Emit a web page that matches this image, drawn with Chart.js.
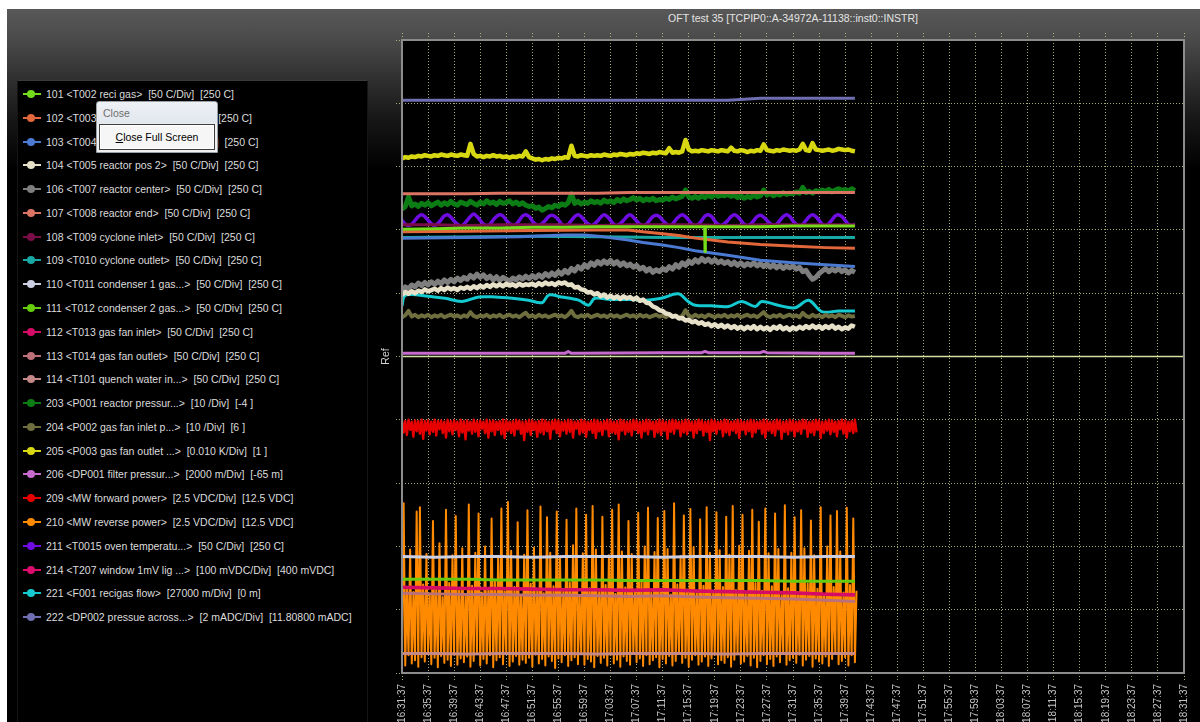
<!DOCTYPE html>
<html>
<head>
<meta charset="utf-8">
<title>OFT test 35</title>
<script src="https://cdn.jsdelivr.net/npm/chart.js@4.4.1/dist/chart.umd.min.js"></script>
<style>
  html, body { margin: 0; padding: 0; width: 1200px; height: 722px; overflow: hidden; background: #000;
    font-family: "Liberation Sans", Arial, sans-serif; }
  #bg { position: absolute; left: 0; top: 0; width: 1200px; height: 722px;
    background: linear-gradient(to bottom, #ffffff 0px, #ffffff 9px, #585858 9px, #4b4b4b 38px, #2f2f2f 80px, #161616 120px, #000 170px); }
  #edge { position: absolute; left: 0; top: 0; width: 7px; height: 722px; background: #fff; }
  #legendBox { position: absolute; left: 17px; top: 80px; width: 349px; height: 680px; background: #000;
    border: 1px solid #151515; border-top-color: #3a3a3a; }
  #legend { position: absolute; left: 0; top: 0; }
  .lg-row { position: absolute; left: 0; height: 14px; }
  .lg-line { position: absolute; left: 23px; top: 6px; width: 18px; height: 2px; }
  .lg-dot { position: absolute; left: 27px; top: 3px; width: 8px; height: 8px; border-radius: 50%; }
  .lg-text { position: absolute; left: 46px; top: 0; line-height: 14px; font-size: 10.5px; color: #dcdcdc; white-space: pre; }
  #title { position: absolute; left: 593px; top: 11px; width: 400px; text-align: center; color: #e4e4e4;
    font-size: 10.5px; line-height: 14px; white-space: pre; }
  #plotWrap { position: absolute; left: 370px; top: 0; width: 830px; height: 722px; }
  #closeMenu { position: absolute; left: 96px; top: 101px; width: 122px; height: 52px; box-sizing: border-box;
    border: 1px solid #9aa0a8; border-radius: 3px 3px 0 0;
    background: linear-gradient(to bottom, #eef1f5 0px, #e2e7ee 21px, #f0f0f0 22px, #f0f0f0 100%); }
  #closeMenu .cm-title { position: absolute; left: 6px; top: 5px; font-size: 10.5px; line-height: 13px; color: #6e6e6e; }
  #closeMenu .cm-btn { position: absolute; left: 2px; top: 22px; width: 116px; height: 26px; box-sizing: border-box;
    border: 1px solid #3c3c3c; box-shadow: inset 0 0 0 1px #ffffff; background: #f6f6f6;
    font-size: 10.5px; line-height: 24px; text-align: center; color: #000; }
</style>
</head>
<body>
<div id="bg"></div>
<div id="edge"></div>
<div id="legendBox"></div>
<div id="legend"></div>
<div id="title">OFT test 35 [TCPIP0::A-34972A-11138::inst0::INSTR]</div>
<div id="plotWrap"><canvas id="plot" width="830" height="722"></canvas></div>
<div id="closeMenu"><div class="cm-title">Close</div><div class="cm-btn"><u>C</u>lose Full Screen</div></div>

<script>
// ---- time axis (minutes after 16:31:37) ----
const TIME_LABELS = ['16:31:37','16:35:37','16:39:37','16:43:37','16:47:37','16:51:37','16:55:37','16:59:37',
  '17:03:37','17:07:37','17:11:37','17:15:37','17:19:37','17:23:37','17:27:37','17:31:37','17:35:37','17:39:37',
  '17:43:37','17:47:37','17:51:37','17:55:37','17:59:37','18:03:37','18:07:37','18:11:37','18:15:37','18:19:37',
  '18:23:37','18:27:37','18:31:37'];
const TICK_STEP_MIN = 4;
const AXIS_END_MIN = 120;

// logger sample times (minutes)
const COARSE_TIMES = [0, 5, 10, 15, 20, 25, 30, 35, 40, 45, 50, 55, 60, 65, 69.5];
const FINE_TIMES = Array.from({ length: 140 }, (_, i) => i * 0.5);    // 30 s samples
const DENSE_TIMES = Array.from({ length: 280 }, (_, i) => i * 0.25);  // 15 s samples

// ---- channel names ----
const SERIES_LABELS = [
  '101 <T002 reci gas>  [50 C/Div]  [250 C]',
  '102 <T003 reactor inlet>  [50 C/Div]  [250 C]',
  '103 <T004 reactor pos 1>  [50 C/Div]  [250 C]',
  '104 <T005 reactor pos 2>  [50 C/Div]  [250 C]',
  '106 <T007 reactor center>  [50 C/Div]  [250 C]',
  '107 <T008 reactor end>  [50 C/Div]  [250 C]',
  '108 <T009 cyclone inlet>  [50 C/Div]  [250 C]',
  '109 <T010 cyclone outlet>  [50 C/Div]  [250 C]',
  '110 <T011 condenser 1 gas...>  [50 C/Div]  [250 C]',
  '111 <T012 condenser 2 gas...>  [50 C/Div]  [250 C]',
  '112 <T013 gas fan inlet>  [50 C/Div]  [250 C]',
  '113 <T014 gas fan outlet>  [50 C/Div]  [250 C]',
  '114 <T101 quench water in...>  [50 C/Div]  [250 C]',
  '203 <P001 reactor pressur...>  [10 /Div]  [-4 ]',
  '204 <P002 gas fan inlet p...>  [10 /Div]  [6 ]',
  '205 <P003 gas fan outlet ...>  [0.010 K/Div]  [1 ]',
  '206 <DP001 filter pressur...>  [2000 m/Div]  [-65 m]',
  '209 <MW forward power>  [2.5 VDC/Div]  [12.5 VDC]',
  '210 <MW reverse power>  [2.5 VDC/Div]  [12.5 VDC]',
  '211 <T0015 oven temperatu...>  [50 C/Div]  [250 C]',
  '214 <T207 window 1mV lig ...>  [100 mVDC/Div]  [400 mVDC]',
  '221 <F001 recigas flow>  [27000 m/Div]  [0 m]',
  '222 <DP002 pressue across...>  [2 mADC/Div]  [11.80800 mADC]'
];

const SERIES_COLORS = ['#74dc1a', '#e2683c', '#4a7ad2', '#e6e0c8', '#7e7e7e', '#dc7464', '#7a0c48', '#18a8a4',
  '#cccfe2', '#66cc0e', '#d40c66', '#bc7078', '#c48888', '#0c7c14', '#6e6e3e', '#d8d812', '#c66ace',
  '#e60000', '#ff8a00', '#6e0ce2', '#dc0c6c', '#14cad0', '#6e6eb0'];

// trace widths in px, same order as the channels
const SERIES_WIDTHS = [3, 3, 3, 4.5, 5, 3, 3, 3, 3, 3, 3, 3, 3, 5, 4, 4.5, 3, 2.4, 2, 3.5, 3, 3, 3];

// ---- channel values, in divisions (0 = bottom grid line, 10 = top) ----
const T002_TIMES = [0, 5, 10, 15, 20, 25, 30, 35, 40, 45, 46.45, 46.5, 46.55, 50, 55, 60, 65, 69.5];
const T002_RECI_GAS = [7.01, 7.02, 7.03, 7.03, 7.04, 7.04, 7.05, 7.05, 7.05, 7.05, 7.05, 6.66, 7.05, 7.05, 7.05, 7.06, 7.06, 7.06];

const T003_TIMES = [0, 10, 20, 30, 34.7, 37, 40, 42.5, 45, 47.5, 50, 55, 60.4, 65, 69.5];
const T003_REACTOR_INLET = [6.97, 6.98, 6.99, 7.00, 7.00, 6.97, 6.94, 6.91, 6.87, 6.84, 6.81, 6.77, 6.74, 6.72, 6.71];

const T004_TIMES = [0, 10, 18, 25, 28, 31, 34.7, 37, 40, 42.5, 45, 50, 55, 60, 65, 69.5];
const T004_REACTOR_POS1 = [6.87, 6.88, 6.89, 6.92, 6.92, 6.89, 6.84, 6.80, 6.76, 6.72, 6.67, 6.60, 6.52, 6.48, 6.45, 6.42];

const T005_REACTOR_POS2 = [
  5.97, 6.02, 5.99, 6.03, 6.00, 6.04, 6.02, 6.06, 6.03, 6.05,
  6.07, 6.04, 6.08, 6.05, 6.09, 6.06, 6.08, 6.05, 6.09, 6.07,
  6.10, 6.07, 6.11, 6.08, 6.12, 6.09, 6.13, 6.10, 6.14, 6.11,
  6.14, 6.11, 6.15, 6.12, 6.14, 6.11, 6.15, 6.12, 6.14, 6.13,
  6.15, 6.12, 6.16, 6.13, 6.17, 6.14, 6.16, 6.13, 6.17, 6.15,
  6.17, 6.13, 6.14, 6.09, 6.10, 6.06, 6.05, 6.01, 6.02, 5.98,
  6.00, 5.95, 5.98, 5.93, 5.96, 5.92, 5.95, 5.91, 5.95, 5.92,
  5.94, 5.90, 5.93, 5.88, 5.90, 5.85, 5.84, 5.79, 5.77, 5.73,
  5.72, 5.68, 5.67, 5.63, 5.64, 5.60, 5.61, 5.57, 5.58, 5.54,
  5.56, 5.52, 5.54, 5.50, 5.52, 5.48, 5.51, 5.47, 5.50, 5.46,
  5.49, 5.45, 5.48, 5.44, 5.47, 5.43, 5.47, 5.44, 5.48, 5.43,
  5.47, 5.43, 5.46, 5.42, 5.47, 5.44, 5.48, 5.43, 5.46, 5.42,
  5.46, 5.43, 5.47, 5.44, 5.48, 5.45, 5.49, 5.45, 5.48, 5.44,
  5.48, 5.45, 5.49, 5.44, 5.47, 5.43, 5.46, 5.44, 5.49, 5.47
];

const T007_REACTOR_CENTER = [
  6.03, 6.10, 6.07, 6.13, 6.10, 6.16, 6.12, 6.17, 6.13, 6.18,
  6.14, 6.19, 6.15, 6.21, 6.17, 6.22, 6.18, 6.24, 6.20, 6.25,
  6.22, 6.28, 6.24, 6.30, 6.25, 6.29, 6.23, 6.27, 6.21, 6.26,
  6.20, 6.25, 6.22, 6.19, 6.24, 6.21, 6.26, 6.22, 6.27, 6.23,
  6.28, 6.24, 6.29, 6.25, 6.31, 6.27, 6.32, 6.28, 6.34, 6.30,
  6.36, 6.32, 6.39, 6.35, 6.42, 6.38, 6.45, 6.41, 6.48, 6.44,
  6.50, 6.46, 6.51, 6.47, 6.52, 6.46, 6.50, 6.44, 6.48, 6.43,
  6.46, 6.41, 6.44, 6.38, 6.41, 6.35, 6.39, 6.33, 6.37, 6.34,
  6.39, 6.36, 6.42, 6.38, 6.45, 6.41, 6.48, 6.44, 6.51, 6.47,
  6.53, 6.49, 6.55, 6.50, 6.54, 6.49, 6.53, 6.48, 6.51, 6.47,
  6.50, 6.45, 6.49, 6.44, 6.48, 6.43, 6.47, 6.44, 6.48, 6.43,
  6.47, 6.42, 6.46, 6.41, 6.45, 6.40, 6.44, 6.39, 6.43, 6.40,
  6.43, 6.38, 6.41, 6.34, 6.36, 6.28, 6.22, 6.25, 6.31, 6.35,
  6.39, 6.34, 6.38, 6.35, 6.39, 6.34, 6.37, 6.32, 6.36, 6.33
];

const T008_REACTOR_END = [7.57, 7.57, 7.57, 7.58, 7.58, 7.58, 7.58, 7.59, 7.59, 7.59, 7.59, 7.59, 7.59, 7.59, 7.59];
const T009_CYCLONE_INLET = [7.08, 7.08, 7.07, 7.08, 7.08, 7.08, 7.07, 7.08, 7.08, 7.08, 7.07, 7.08, 7.08, 7.08, 7.08];
const T010_TIMES = [0, 20, 30, 40, 50, 60, 69.5];
const T010_CYCLONE_OUTLET = [6.88, 6.90, 6.89, 6.88, 6.88, 6.88, 6.88];
const T011_CONDENSER1 = [1.84, 1.83, 1.84, 1.84, 1.83, 1.84, 1.84, 1.84, 1.83, 1.84, 1.84, 1.84, 1.83, 1.84, 1.84];
const T012_CONDENSER2 = [1.48, 1.48, 1.48, 1.47, 1.47, 1.47, 1.47, 1.46, 1.46, 1.46, 1.46, 1.46, 1.45, 1.45, 1.45];
const T013_FAN_INLET = [1.35, 1.34, 1.33, 1.33, 1.32, 1.31, 1.31, 1.30, 1.31, 1.29, 1.28, 1.27, 1.26, 1.24, 1.23];
const T014_FAN_OUTLET = [1.26, 1.25, 1.24, 1.24, 1.23, 1.23, 1.22, 1.21, 1.22, 1.20, 1.19, 1.18, 1.17, 1.15, 1.13];
const T101_QUENCH_WATER = [0.31, 0.31, 0.30, 0.31, 0.31, 0.31, 0.30, 0.31, 0.31, 0.31, 0.30, 0.31, 0.31, 0.31, 0.31];

const P001_REACTOR_PRESSURE = [
  7.33, 7.37, 7.52, 7.38, 7.41, 7.37, 7.42, 7.39, 7.43, 7.38,
  7.41, 7.44, 7.39, 7.43, 7.40, 7.45, 7.41, 7.39, 7.44, 7.42,
  7.40, 7.45, 7.42, 7.39, 7.44, 7.41, 7.46, 7.42, 7.44, 7.40,
  7.45, 7.42, 7.43, 7.46, 7.41, 7.44, 7.40, 7.43, 7.39, 7.37,
  7.38, 7.34, 7.36, 7.31, 7.34, 7.37, 7.35, 7.39, 7.37, 7.41,
  7.39, 7.43, 7.57, 7.42, 7.45, 7.41, 7.44, 7.42, 7.46, 7.43,
  7.45, 7.42, 7.47, 7.44, 7.46, 7.43, 7.48, 7.45, 7.49, 7.46,
  7.48, 7.51, 7.47, 7.50, 7.46, 7.49, 7.47, 7.50, 7.46, 7.48,
  7.47, 7.50, 7.48, 7.52, 7.49, 7.51, 7.53, 7.63, 7.52, 7.50,
  7.53, 7.50, 7.54, 7.51, 7.55, 7.52, 7.56, 7.53, 7.55, 7.54,
  7.56, 7.53, 7.55, 7.51, 7.54, 7.50, 7.53, 7.51, 7.55, 7.52,
  7.54, 7.63, 7.55, 7.58, 7.54, 7.57, 7.55, 7.59, 7.56, 7.58,
  7.57, 7.60, 7.58, 7.67, 7.59, 7.61, 7.58, 7.62, 7.60, 7.63,
  7.61, 7.64, 7.60, 7.63, 7.65, 7.62, 7.64, 7.61, 7.65, 7.62
];

const P002_FAN_INLET_P = [
  5.62, 5.65, 5.72, 5.63, 5.66, 5.62, 5.65, 5.63, 5.66, 5.62,
  5.65, 5.63, 5.66, 5.62, 5.64, 5.66, 5.63, 5.65, 5.62, 5.65,
  5.63, 5.70, 5.64, 5.62, 5.65, 5.63, 5.66, 5.62, 5.65, 5.63,
  5.66, 5.62, 5.64, 5.66, 5.63, 5.65, 5.62, 5.66, 5.69, 5.63,
  5.65, 5.62, 5.66, 5.63, 5.65, 5.62, 5.64, 5.66, 5.63, 5.65,
  5.62, 5.66, 5.72, 5.64, 5.62, 5.65, 5.63, 5.66, 5.62, 5.64,
  5.66, 5.63, 5.65, 5.62, 5.66, 5.63, 5.65, 5.62, 5.64, 5.66,
  5.63, 5.65, 5.62, 5.66, 5.63, 5.65, 5.62, 5.64, 5.66, 5.63,
  5.65, 5.62, 5.66, 5.63, 5.65, 5.62, 5.64, 5.73, 5.65, 5.62,
  5.66, 5.63, 5.65, 5.62, 5.66, 5.64, 5.62, 5.65, 5.63, 5.66,
  5.62, 5.65, 5.63, 5.66, 5.62, 5.64, 5.66, 5.63, 5.65, 5.62,
  5.66, 5.70, 5.64, 5.62, 5.65, 5.63, 5.66, 5.62, 5.64, 5.66,
  5.63, 5.65, 5.62, 5.69, 5.64, 5.62, 5.66, 5.63, 5.65, 5.62,
  5.66, 5.63, 5.65, 5.62, 5.66, 5.64, 5.62, 5.65, 5.63, 5.64
];

const P003_FAN_OUTLET = [
  8.13, 8.15, 8.14, 8.16, 8.15, 8.17, 8.16, 8.18, 8.17, 8.16,
  8.18, 8.17, 8.19, 8.18, 8.17, 8.19, 8.18, 8.17, 8.19, 8.18,
  8.17, 8.36, 8.20, 8.16, 8.17, 8.15, 8.17, 8.16, 8.18, 8.16,
  8.17, 8.15, 8.16, 8.14, 8.16, 8.15, 8.17, 8.16, 8.24, 8.15,
  8.13, 8.11, 8.12, 8.10, 8.12, 8.11, 8.13, 8.12, 8.14, 8.13,
  8.15, 8.14, 8.33, 8.17, 8.16, 8.18, 8.17, 8.16, 8.18, 8.17,
  8.18, 8.17, 8.19, 8.18, 8.17, 8.19, 8.18, 8.20, 8.19, 8.18,
  8.20, 8.19, 8.21, 8.20, 8.22, 8.21, 8.20, 8.22, 8.21, 8.23,
  8.22, 8.21, 8.29, 8.22, 8.23, 8.22, 8.24, 8.42, 8.27, 8.24,
  8.25, 8.24, 8.26, 8.25, 8.24, 8.26, 8.25, 8.24, 8.26, 8.25,
  8.24, 8.30, 8.25, 8.24, 8.26, 8.25, 8.23, 8.25, 8.24, 8.26,
  8.25, 8.35, 8.26, 8.25, 8.24, 8.26, 8.25, 8.27, 8.26, 8.25,
  8.26, 8.25, 8.27, 8.36, 8.26, 8.25, 8.37, 8.27, 8.26, 8.25,
  8.26, 8.27, 8.25, 8.26, 8.28, 8.27, 8.26, 8.27, 8.25, 8.24
];

const DP001_TIMES = [0, 10, 25, 25.5, 26, 40, 46, 46.5, 47, 55, 55.5, 56, 65, 69.5];
const DP001_FILTER_PRESSURE = [5.05, 5.05, 5.05, 5.08, 5.05, 5.06, 5.06, 5.08, 5.06, 5.06, 5.08, 5.06, 5.05, 5.05];

const MW_FORWARD_POWER = [
  3.99,3.80,3.98,3.76,4.00,3.84,3.97,3.73,3.99,3.82,3.98,3.78,4.00,3.70,3.98,3.83,3.99,3.77,3.97,3.81,
  4.00,3.75,3.98,3.85,3.99,3.79,3.97,3.72,4.00,3.82,3.98,3.77,3.99,3.84,3.97,3.74,4.00,3.80,3.98,3.69,
  3.99,3.83,3.97,3.78,4.00,3.81,3.98,3.74,3.99,3.86,3.97,3.79,4.00,3.72,3.98,3.82,3.99,3.76,3.97,3.84,
  3.98,3.77,4.00,3.71,3.99,3.83,3.97,3.79,3.98,3.75,4.00,3.85,3.99,3.78,3.97,3.68,3.98,3.81,4.00,3.76,
  3.99,3.84,3.97,3.73,3.98,3.80,4.00,3.77,3.99,3.82,3.97,3.70,3.98,3.85,4.00,3.79,3.99,3.74,3.97,3.83,
  3.98,3.78,4.00,3.81,3.99,3.72,3.97,3.86,3.98,3.77,4.00,3.80,3.99,3.73,3.97,3.84,3.98,3.79,4.00,3.71,
  3.99,3.82,3.97,3.76,3.98,3.85,4.00,3.74,3.99,3.80,3.97,3.78,3.98,3.69,4.00,3.83,3.99,3.77,3.97,3.81,
  3.98,3.75,4.00,3.84,3.99,3.79,3.97,3.72,3.98,3.82,4.00,3.77,3.99,3.85,3.97,3.73,3.98,3.80,4.00,3.76,
  3.99,3.83,3.97,3.70,3.98,3.81,4.00,3.78,3.99,3.86,3.97,3.74,3.98,3.80,4.00,3.77,3.99,3.83,3.97,3.72,
  3.98,3.79,4.00,3.84,3.99,3.75,3.97,3.81,3.98,3.68,4.00,3.82,3.99,3.78,3.97,3.85,3.98,3.74,4.00,3.80,
  3.99,3.76,3.97,3.83,3.98,3.79,4.00,3.71,3.99,3.84,3.97,3.77,3.98,3.82,4.00,3.73,3.99,3.80,3.97,3.86,
  3.98,3.78,4.00,3.72,3.99,3.83,3.97,3.79,3.98,3.75,4.00,3.85,3.99,3.70,3.97,3.81,3.98,3.77,4.00,3.83,
  3.99,3.74,3.97,3.82,3.98,3.78,4.00,3.86,3.99,3.73,3.97,3.80,3.98,3.76,4.00,3.84,3.99,3.71,3.97,3.79,
  3.98,3.83,4.00,3.77,3.99,3.81,3.97,3.74,3.98,3.85,4.00,3.78,3.99,3.72,3.97,3.82,3.98,3.79,4.00,3.80
];

const MW_REVERSE_POWER = [
  0.22,2.68,0.12,1.35,0.28,1.95,0.15,1.28,0.20,2.55,0.10,2.62,0.25,1.40,0.18,1.88,0.30,1.25,0.14,2.40,
  0.24,1.32,0.09,2.05,0.27,1.20,0.16,2.58,0.21,1.42,0.11,1.86,0.29,2.48,0.13,1.30,0.23,1.97,0.17,1.24,
  0.26,2.66,0.10,1.38,0.19,1.90,0.31,2.52,0.12,1.27,0.22,2.00,0.15,1.33,0.28,2.44,0.09,1.45,0.20,1.82,
  0.25,2.60,0.14,1.29,0.30,2.70,0.11,1.93,0.18,1.36,0.27,2.38,0.13,1.22,0.21,1.87,0.16,2.57,0.24,1.41,
  0.10,1.98,0.29,1.31,0.15,2.63,0.22,1.26,0.12,2.46,0.26,1.90,0.19,1.37,0.08,2.55,0.23,1.84,0.17,1.29,
  0.28,2.42,0.11,1.43,0.20,2.02,0.25,2.60,0.14,1.23,0.31,1.89,0.13,2.50,0.22,1.34,0.18,2.64,0.09,1.95,
  0.27,1.28,0.16,2.47,0.24,1.39,0.12,1.86,0.29,2.58,0.15,1.25,0.21,2.66,0.10,1.92,0.26,1.35,0.19,2.40,
  0.13,1.88,0.30,1.30,0.17,2.53,0.23,1.44,0.11,2.00,0.28,2.61,0.14,1.27,0.20,1.91,0.25,2.45,0.09,1.33,
  0.22,2.56,0.15,1.96,0.27,1.24,0.12,2.68,0.19,1.40,0.31,1.85,0.16,2.49,0.24,1.32,0.10,2.59,0.21,1.99,
  0.28,1.26,0.13,2.43,0.18,1.38,0.26,2.62,0.11,1.90,0.23,1.29,0.29,2.54,0.14,1.94,0.20,1.36,0.16,2.47,
  0.25,1.87,0.10,2.64,0.21,1.31,0.30,2.01,0.15,2.50,0.18,1.25,0.27,1.93,0.12,2.58,0.24,1.42,0.09,2.39,
  0.19,1.30,0.28,2.60,0.14,1.89,0.22,1.37,0.11,2.52,0.26,1.96,0.17,1.23,0.31,2.65,0.13,1.34,0.20,1.90,
  0.24,2.46,0.16,1.28,0.29,2.57,0.12,1.97,0.21,1.41,0.27,2.41,0.10,1.86,0.23,1.33,0.18,2.62,0.15,1.24,
  0.26,2.00,0.11,2.49,0.22,1.36,0.30,2.56,0.14,1.92,0.19,1.27,0.25,2.61,0.12,1.39,0.28,2.44,0.17,1.30
];

const T0015_OVEN_TEMP = [
  7.15,7.09,7.07,7.09,7.15,7.21,7.24,7.21,  7.15,7.10,7.07,7.10,7.16,7.22,7.24,7.20,
  7.14,7.09,7.06,7.09,7.15,7.21,7.25,7.21,  7.15,7.09,7.07,7.09,7.16,7.21,7.24,7.22,
  7.15,7.10,7.07,7.09,7.15,7.22,7.24,7.21,  7.14,7.09,7.07,7.10,7.15,7.21,7.23,7.21,
  7.16,7.09,7.06,7.09,7.15,7.21,7.24,7.21,  7.15,7.10,7.07,7.09,7.14,7.20,7.24,7.21,
  7.15,7.09,7.07,7.10,7.15,7.21,7.24,7.20,  7.14,7.09,7.07,7.09,7.15,7.21,7.23,7.21,
  7.15,7.10,7.06,7.09,7.16,7.21,7.24,7.21,  7.15,7.09,7.07,7.09,7.15,7.22,7.24,7.21,
  7.14,7.09,7.07,7.10,7.15,7.21,7.24,7.21,  7.15,7.09,7.07,7.09,7.15,7.21,7.23,7.20,
  7.15,7.10,7.07,7.09,7.15,7.21,7.24,7.21,  7.14,7.09,7.06,7.09,7.15,7.21,7.24,7.21,
  7.15,7.09,7.07,7.10,7.16,7.22,7.24,7.21,  7.15,7.09,7.07,7.09
];

const T207_WINDOW = [1.36, 1.35, 1.34, 1.34, 1.33, 1.32, 1.32, 1.31, 1.32, 1.30, 1.29, 1.28, 1.27, 1.25, 1.24];

const F001_TIMES = [0, 0.4, 1.5, 4, 6.6, 9.2, 11.8, 14.3, 16.9, 19.4, 21.5, 22.5, 24.5, 27.1, 28.6, 29.6, 32, 35,
  37.5, 39.8, 42.4, 43.9, 45, 47.5, 50.1, 52.1, 54.2, 55.2, 57.7, 60.3, 62.4, 64.4, 67, 69.5];
const F001_RECIGAS_FLOW = [5.80, 5.96, 5.98, 5.95, 5.92, 5.87, 5.94, 5.94, 5.92, 5.89, 5.85, 5.97, 5.94, 5.89, 5.81,
  5.92, 5.90, 5.90, 5.89, 5.92, 5.99, 5.87, 5.81, 5.80, 5.79, 5.87, 5.79, 5.87, 5.81, 5.77, 5.89, 5.71, 5.72, 5.72];

const DP002_PRESSURE = [9.05, 9.05, 9.05, 9.05, 9.05, 9.05, 9.05, 9.05, 9.05, 9.05, 9.05, 9.08, 9.08, 9.08, 9.08];

const REF_TIMES = [0, 120];
const REF_LEVEL = [5, 5];

// channel order follows the legend
const SERIES_DATA = [
  [T002_TIMES, T002_RECI_GAS],
  [T003_TIMES, T003_REACTOR_INLET],
  [T004_TIMES, T004_REACTOR_POS1],
  [FINE_TIMES, T005_REACTOR_POS2],
  [FINE_TIMES, T007_REACTOR_CENTER],
  [COARSE_TIMES, T008_REACTOR_END],
  [COARSE_TIMES, T009_CYCLONE_INLET],
  [T010_TIMES, T010_CYCLONE_OUTLET],
  [COARSE_TIMES, T011_CONDENSER1],
  [COARSE_TIMES, T012_CONDENSER2],
  [COARSE_TIMES, T013_FAN_INLET],
  [COARSE_TIMES, T014_FAN_OUTLET],
  [COARSE_TIMES, T101_QUENCH_WATER],
  [FINE_TIMES, P001_REACTOR_PRESSURE],
  [FINE_TIMES, P002_FAN_INLET_P],
  [FINE_TIMES, P003_FAN_OUTLET],
  [DP001_TIMES, DP001_FILTER_PRESSURE],
  [DENSE_TIMES, MW_FORWARD_POWER],
  [DENSE_TIMES, MW_REVERSE_POWER],
  [FINE_TIMES, T0015_OVEN_TEMP],
  [COARSE_TIMES, T207_WINDOW],
  [F001_TIMES, F001_RECIGAS_FLOW],
  [COARSE_TIMES, DP002_PRESSURE]
];

// ---- legend panel ----
const legendEl = document.getElementById('legend');
SERIES_LABELS.forEach((label, i) => {
  const row = document.createElement('div');
  row.className = 'lg-row';
  row.style.top = (87 + i * 23.78) + 'px';
  const line = document.createElement('div');
  line.className = 'lg-line';
  line.style.background = SERIES_COLORS[i];
  const dot = document.createElement('div');
  dot.className = 'lg-dot';
  dot.style.background = SERIES_COLORS[i];
  const text = document.createElement('div');
  text.className = 'lg-text';
  text.textContent = label;
  row.append(line, dot, text);
  legendEl.appendChild(row);
});

// ---- plot ----
const FONT = '"Liberation Sans", Arial, sans-serif';
const GRID_COLOR = 'rgba(196, 196, 132, 0.85)';

const datasets = SERIES_DATA.map(([times, values], i) => {
  const dense = times === DENSE_TIMES;
  return {
    label: SERIES_LABELS[i],
    data: values.map((v, k) => ({ x: times[k], y: v })),
    borderColor: SERIES_COLORS[i],
    borderWidth: SERIES_WIDTHS[i],
    borderJoinStyle: 'round',
    pointRadius: 0,
    tension: (values === T0015_OVEN_TEMP || values === F001_RECIGAS_FLOW) ? 0.35 : 0,
    order: dense ? 1 : 0
  };
});
datasets.push({
  label: 'Ref',
  data: REF_LEVEL.map((v, k) => ({ x: REF_TIMES[k], y: v })),
  borderColor: '#d2e0a0',
  borderWidth: 1.5,
  pointRadius: 0,
  order: 2
});

const plotFrame = {
  id: 'plotFrame',
  beforeDraw(chart) {
    const { ctx, chartArea: a } = chart;
    ctx.save();
    ctx.fillStyle = '#000';
    ctx.fillRect(a.left, a.top, a.right - a.left, a.bottom - a.top);
    ctx.restore();
  },
  afterDraw(chart) {
    const { ctx, chartArea: a } = chart;
    ctx.save();
    ctx.strokeStyle = '#8c8c8c';
    ctx.lineWidth = 2;
    ctx.strokeRect(a.left, a.top, a.right - a.left, a.bottom - a.top);
    ctx.restore();
  }
};

const gridStyle = (tickLength) => ({
  color: GRID_COLOR,
  lineWidth: 1,
  tickColor: GRID_COLOR,
  tickLength: tickLength,
  tickBorderDash: [1, 2],
  drawTicks: true
});

new Chart(document.getElementById('plot'), {
  type: 'line',
  data: { datasets },
  plugins: [plotFrame],
  options: {
    responsive: false,
    animation: false,
    events: [],
    layout: { padding: { left: 10, right: 16, top: 33, bottom: 0 } },
    plugins: { legend: { display: false }, tooltip: { enabled: false }, title: { display: false } },
    scales: {
      x: {
        type: 'linear', position: 'bottom', min: 0, max: AXIS_END_MIN,
        afterFit: (s) => { s.height = 49; },
        grid: gridStyle(7),
        border: { display: false, dash: [1, 2] },
        ticks: {
          stepSize: TICK_STEP_MIN, autoSkip: false, minRotation: 90, maxRotation: 90,
          padding: 4, color: '#c4c4c4', font: { family: FONT, size: 10 },
          callback: (value, index) => TIME_LABELS[index]
        }
      },
      xTop: {
        type: 'linear', position: 'top', min: 0, max: AXIS_END_MIN,
        afterFit: (s) => { s.height = 7; },
        grid: Object.assign(gridStyle(7), { drawOnChartArea: false }),
        border: { display: false },
        ticks: { stepSize: TICK_STEP_MIN, display: false }
      },
      y: {
        type: 'linear', position: 'left', min: 0, max: 10,
        afterFit: (s) => { s.width = 22; },
        grid: gridStyle(6),
        border: { display: false, dash: [1, 2] },
        ticks: { stepSize: 1, display: false },
        title: { display: true, text: 'Ref', color: '#d4d4d4', font: { family: FONT, size: 10.5 }, padding: { top: 0, bottom: 0 } }
      }
    }
  }
});
</script>
</body>
</html>
